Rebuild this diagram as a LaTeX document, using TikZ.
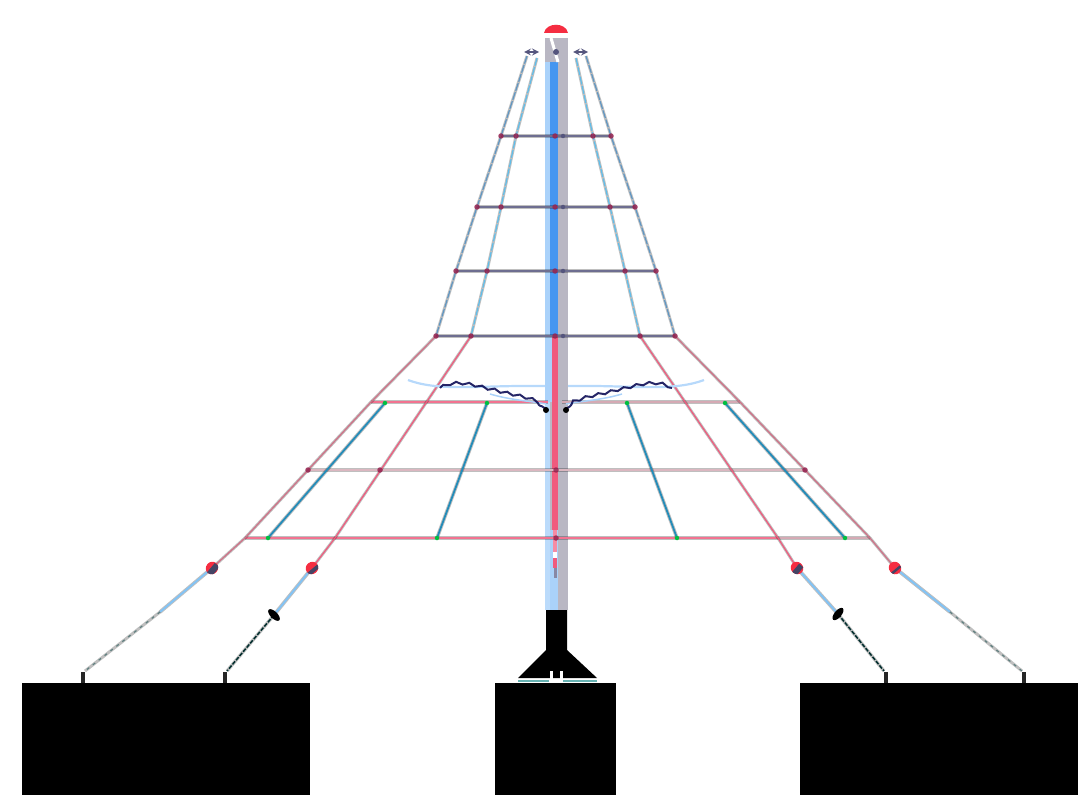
\documentclass[tikz,border=0pt]{standalone}
\usetikzlibrary{shapes.geometric,decorations.pathmorphing}
\definecolor{netred}{RGB}{240,90,125}
\definecolor{netblue}{RGB}{95,150,195}
\definecolor{skyb}{RGB}{95,190,235}
\definecolor{paleb}{RGB}{130,195,245}
\definecolor{polegray}{RGB}{185,183,195}
\definecolor{poleblue}{RGB}{70,150,240}
\definecolor{polepale}{RGB}{170,210,250}
\definecolor{dusk}{RGB}{85,85,125}
\definecolor{rosegray}{RGB}{190,125,140}
\definecolor{tealc}{RGB}{35,140,185}
\definecolor{capred}{RGB}{245,45,65}
\definecolor{knot}{RGB}{150,35,80}
\tikzset{
 softline/.style={line width=#1,
   preaction={draw,line width=#1+1.8pt,draw opacity=.25}},
 softline/.default=1.2pt,
 upperouter/.style={draw=netblue,dash pattern=on 8pt off 1.5pt,softline},
 upperinner/.style={draw=skyb,dash pattern=on 8pt off 1.5pt,softline},
 lowerred/.style={draw=netred,softline},
 lowerdusk/.style={draw=rosegray!65!netred,softline},
 lowerblue/.style={draw=tealc,softline=1.8pt},
 ringline/.style={draw=dusk!85,softline=1.4pt},
 ringred/.style={draw=netred!85,softline=1.3pt},
 ringrose/.style={draw=rosegray!65,softline=1.7pt},
 ringpale/.style={draw=rosegray!55,softline=2.4pt},
 cablepale/.style={draw=paleb,softline=1.9pt},
 cabledash/.style={draw=gray!75!teal,softline=1.2pt,dash pattern=on 3pt off 4.5pt},
 cabledark/.style={draw=black!65!teal,softline=1.5pt,dash pattern=on 4pt off 1.5pt},
 stub/.style={draw=black!85,line width=4pt},
 block/.style={fill=black,draw=none,inner sep=0},
 knotmark/.style={circle,fill=knot,inner sep=0,minimum size=5.5pt,fill opacity=.85},
 greenmark/.style={circle,fill=green!50!teal,inner sep=0,minimum size=4.5pt},
 clampmark/.style={ellipse,rotate=#1,fill=capred,inner sep=0,minimum width=12pt,minimum height=13pt,
    path picture={\fill[dusk!80!black] (path picture bounding box.south west) rectangle ([yshift=1pt]path picture bounding box.east);}},
 clampmark/.default=0,
 blobmark/.style={ellipse,fill=black,inner sep=0,minimum width=15pt,minimum height=7pt,rotate=#1},
 blobmark/.default=0,
 wiggle/.style={draw=black!70!blue,line width=2pt,draw opacity=.85,decorate,
    decoration={snake,amplitude=1.3pt,segment length=13pt}},
 bowlline/.style={draw=polepale!85,line width=2.2pt},
}
\begin{document}
\begin{tikzpicture}[x=1pt,y=-1pt]
\useasboundingbox (0,0) rectangle (1078,802);
% key points
\coordinate (tl1) at (527,56); \coordinate (tl2) at (537,58);
\coordinate (tr1) at (586,56); \coordinate (tr2) at (576,58);
\coordinate (a1) at (501,136); \coordinate (a2) at (516,136); \coordinate (a3) at (593,136); \coordinate (a4) at (611,136);
\coordinate (b1) at (477,207); \coordinate (b2) at (501,207); \coordinate (b3) at (610,207); \coordinate (b4) at (635,207);
\coordinate (c1) at (456,271); \coordinate (c2) at (487,271); \coordinate (c3) at (625,271); \coordinate (c4) at (656,271);
\coordinate (d1) at (436,336); \coordinate (d2) at (471,336); \coordinate (d3) at (640,336); \coordinate (d4) at (675,336);
\coordinate (e1) at (371,402); \coordinate (e2) at (740,402);
\coordinate (e3) at (385,403); \coordinate (e4) at (487,403); \coordinate (e5) at (627,403); \coordinate (e6) at (725,403);
\coordinate (f1) at (308,470); \coordinate (f2) at (805,470);
\coordinate (g1) at (245,538); \coordinate (g2) at (335,538); \coordinate (g3) at (778,538); \coordinate (g4) at (870,538);
\coordinate (g5) at (268,538); \coordinate (g6) at (437,538); \coordinate (g7) at (677,538); \coordinate (g8) at (845,538);
% pole
\fill[polegray] (545,38) rectangle (568,610);
\fill[polepale] (545,62) rectangle (558,402);
\fill[poleblue] (550,62) rectangle (558,336);
\fill[polepale!80] (545,402) rectangle (550,610);
\fill[polepale] (550,530) rectangle (558,610);
\draw[netred,line width=5.5pt] (555,336) -- (555,530);
\draw[netred!70,line width=4pt] (555,530) -- (555,552);
\draw[white,line width=4pt] (555,552) -- (555,558);
\draw[netred,line width=4pt] (555,558) -- (555,568);
\draw[dusk!70,line width=3pt] (555,568) -- (555,578);
% rings
\foreach \p/\q in {a1/a4,b1/b4,c1/c4,d1/d4}{\draw[ringline] (\p) -- (\q);}
\draw[ringred] (e1) -- (548,402);
\draw[ringrose] (562,402) -- (e2);
\draw[ringpale] (f1) -- (f2);
\draw[ringred] (g1) -- (g3);
\draw[ringrose] (g3) -- (g4);
% upper nets
\draw[upperouter] (tl1) -- (a1) -- (b1) -- (c1) -- (d1);
\draw[upperinner] (tl2) -- (a2) -- (b2) -- (c2) -- (d2);
\draw[upperinner] (tr2) -- (a3) -- (b3) -- (c3) -- (d3);
\draw[upperouter] (tr1) -- (a4) -- (b4) -- (c4) -- (d4);
% lower nets
\draw[lowerdusk] (d1) -- (e1) -- (f1) -- (g1);
\draw[lowerred] (d2) -- (g2);
\draw[lowerred] (d3) -- (g3);
\draw[lowerdusk] (d4) -- (e2) -- (f2) -- (g4);
\draw[lowerblue] (e3) -- (g5);
\draw[lowerblue] (e4) -- (g6);
\draw[lowerblue] (e5) -- (g7);
\draw[lowerblue] (e6) -- (g8);
% knots
\foreach \p in {a1,a2,a3,a4,b1,b2,b3,b4,c1,c2,c3,c4,d1,d2,d3,d4}{\node[knotmark] at (\p) {};}
\foreach \y in {136,207,271,336}{\node[knotmark] at (555,\y) {};\node[circle,fill=dusk,inner sep=0,minimum size=4.5pt] at (563,\y) {};}
\node[knotmark] at (f1) {}; \node[knotmark] at (f2) {};
\node[knotmark] at (380,470) {}; \node[knotmark] at (556,470) {};
\node[knotmark] at (556,538) {};
\foreach \p in {e3,e4,e5,e6,g5,g6,g7,g8}{\node[greenmark] at (\p) {};}
% bowl
\draw[bowlline] (408,380) .. controls (440,392) and (480,385) .. (545,386);
\draw[bowlline] (704,380) .. controls (672,392) and (632,385) .. (568,386);
\draw[polepale,line width=1.5pt] (490,394) .. controls (510,400) and (530,401) .. (546,404);
\draw[polepale,line width=1.5pt] (622,394) .. controls (602,400) and (582,401) .. (566,404);
\draw[wiggle] (440,388) .. controls (455,380) and (475,388) .. (490,391) .. controls (510,397) and (530,398) .. (546,409);
\draw[wiggle] (672,388) .. controls (657,380) and (637,388) .. (622,391) .. controls (602,397) and (582,398) .. (566,409);
\fill[black] (546,410) circle (3pt);
\fill[black] (566,410) circle (3pt);
% cables
\coordinate (h1) at (212,568); \coordinate (h2) at (312,568); \coordinate (h3) at (797,568); \coordinate (h4) at (895,568);
\coordinate (i1) at (160,612); \coordinate (i2) at (274,615); \coordinate (i3) at (838,614); \coordinate (i4) at (950,612);
\coordinate (j1) at (85,671); \coordinate (j2) at (227,671); \coordinate (j3) at (884,671); \coordinate (j4) at (1022,671);
\coordinate (k1) at (83,684); \coordinate (k2) at (225,684); \coordinate (k3) at (886,684); \coordinate (k4) at (1024,684);
\coordinate (m1) at (83,672); \coordinate (m2) at (225,672); \coordinate (m3) at (886,672); \coordinate (m4) at (1024,672);
\draw[lowerdusk] (g1) -- (h1);
\draw[lowerred] (g2) -- (h2);
\draw[lowerred] (g3) -- (h3);
\draw[lowerdusk] (g4) -- (h4);
\draw[cablepale] (h1) -- (i1);
\draw[cablepale] (h2) -- (i2);
\draw[cablepale] (h3) -- (i3);
\draw[cablepale] (h4) -- (i4);
\draw[cabledash] (i1) -- (j1);
\draw[cabledark] (i2) -- (j2);
\draw[cabledark] (i3) -- (j3);
\draw[cabledash] (i4) -- (j4);
\foreach \t/\b in {m1/k1,m2/k2,m3/k3,m4/k4}{\draw[stub] (\t) -- (\b);}
\node[clampmark=-40] at (h1) {};
\node[clampmark=-50] at (h2) {};
\node[clampmark=50] at (h3) {};
\node[clampmark=40] at (h4) {};
\node[blobmark=-45] at (i2) {};
\node[blobmark=50] at (i3) {};
% top
\fill[capred] (544,33) .. controls (546,22) and (566,22) .. (568,33) -- cycle;
\draw[dusk,line width=2pt,<->,>=stealth] (524,52) -- (539,52);
\draw[dusk,line width=2pt,<->,>=stealth] (573,52) -- (588,52);
\draw[white,line width=3pt] (551,38) -- (558,62);
\fill[dusk] (556,52) circle (3pt);
% blocks
\node[block,minimum width=288pt,minimum height=112pt,anchor=north west] (lb) at (22,683) {};
\node[block,minimum width=121pt,minimum height=112pt,anchor=north west] (cb) at (495,683) {};
\node[block,minimum width=278pt,minimum height=112pt,anchor=north west] (rb) at (800,683) {};
% pole foot
\fill[black] (546,610) -- (567,610) -- (567,650) -- (597,678) -- (518,678) -- (546,650) -- cycle;
\draw[white,line width=3pt] (551,671) -- (551,682);
\draw[white,line width=3pt] (561,671) -- (561,682);
\draw[teal!60!white,line width=1.6pt] (518,681) -- (549,681);
\draw[teal!60!white,line width=1.6pt] (563,681) -- (597,681);
\end{tikzpicture}
\end{document}
